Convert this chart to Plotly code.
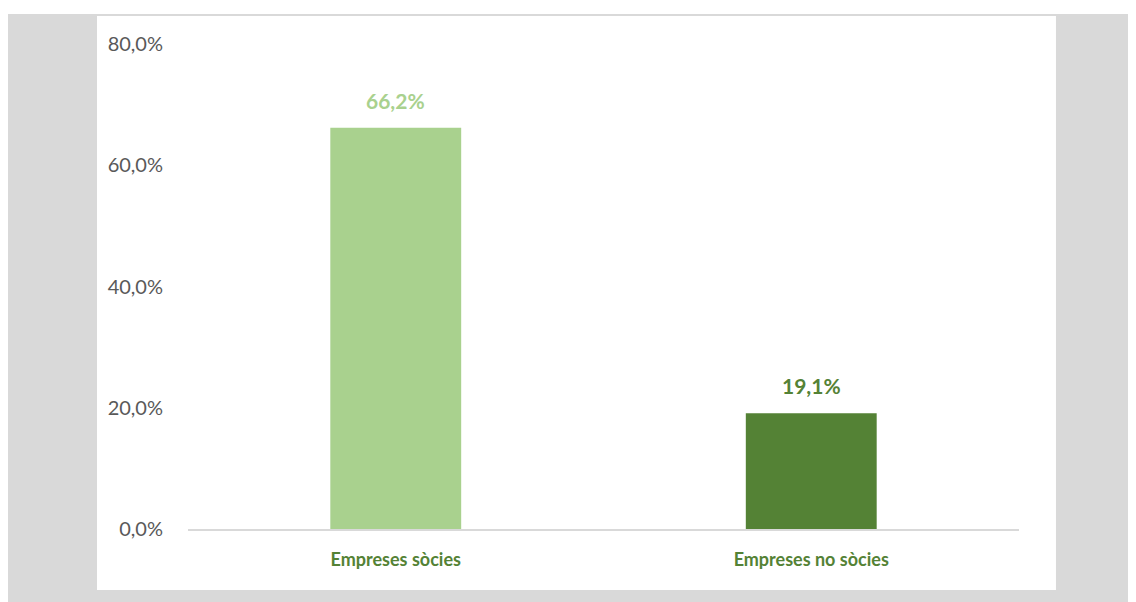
import plotly.graph_objects as go

categories = ["Empreses sòcies", "Empreses no sòcies"]
values = [66.2, 19.1]
bar_colors = ["#a9d18e", "#548235"]
label_texts = ["66,2%", "19,1%"]
y_ticks = [0, 20, 40, 60, 80]
y_tick_labels = ["0,0%", "20,0%", "40,0%", "60,0%", "80,0%"]

fig = go.Figure()
fig.add_trace(go.Bar(
    x=categories, y=values, marker=dict(color=bar_colors, line=dict(width=0)),
    width=0.315, hoverinfo="skip",
))

for c, v, t, col in zip(categories, values, label_texts, bar_colors):
    fig.add_annotation(x=c, y=v, text=f"<b>{t}</b>", showarrow=False,
                       yanchor="bottom", yshift=13,
                       font=dict(family="Lato", size=21, color=col))

# frame backgrounds
fig.add_shape(type="rect", xref="paper", yref="paper",
              x0=-0.2178, x1=1.16, y0=-0.18, y1=1.0619,
              fillcolor="#d9d9d9", line=dict(width=0), layer="below")
fig.add_shape(type="rect", xref="paper", yref="paper",
              x0=-0.1095, x1=1.0445, y0=-0.1258, y1=1.0577,
              fillcolor="#ffffff", line=dict(width=0), layer="below")

fig.update_layout(
    width=1136, height=602,
    margin=dict(l=180, r=125, t=36, b=81, pad=0),
    paper_bgcolor="#ffffff", plot_bgcolor="rgba(0,0,0,0)",
    showlegend=False,
    font=dict(family="Lato", color="#595959"),
)
fig.update_yaxes(range=[0, 80], tickvals=y_ticks, ticktext=y_tick_labels,
                 showgrid=False, zeroline=False, showline=False,
                 ticks="outside", ticklen=20, tickcolor="rgba(0,0,0,0)",
                 tickfont=dict(family="Lato", size=20, color="#595959"))
fig.update_xaxes(showline=True, linecolor="#d9d9d9", linewidth=2,
                 ticks="outside", ticklen=13, tickcolor="rgba(0,0,0,0)",
                 tickvals=categories,
                 ticktext=[f"<b>{c}</b>" for c in categories],
                 tickfont=dict(family="Lato", size=18, color="#548235"))

fig.write_html("out.html")
